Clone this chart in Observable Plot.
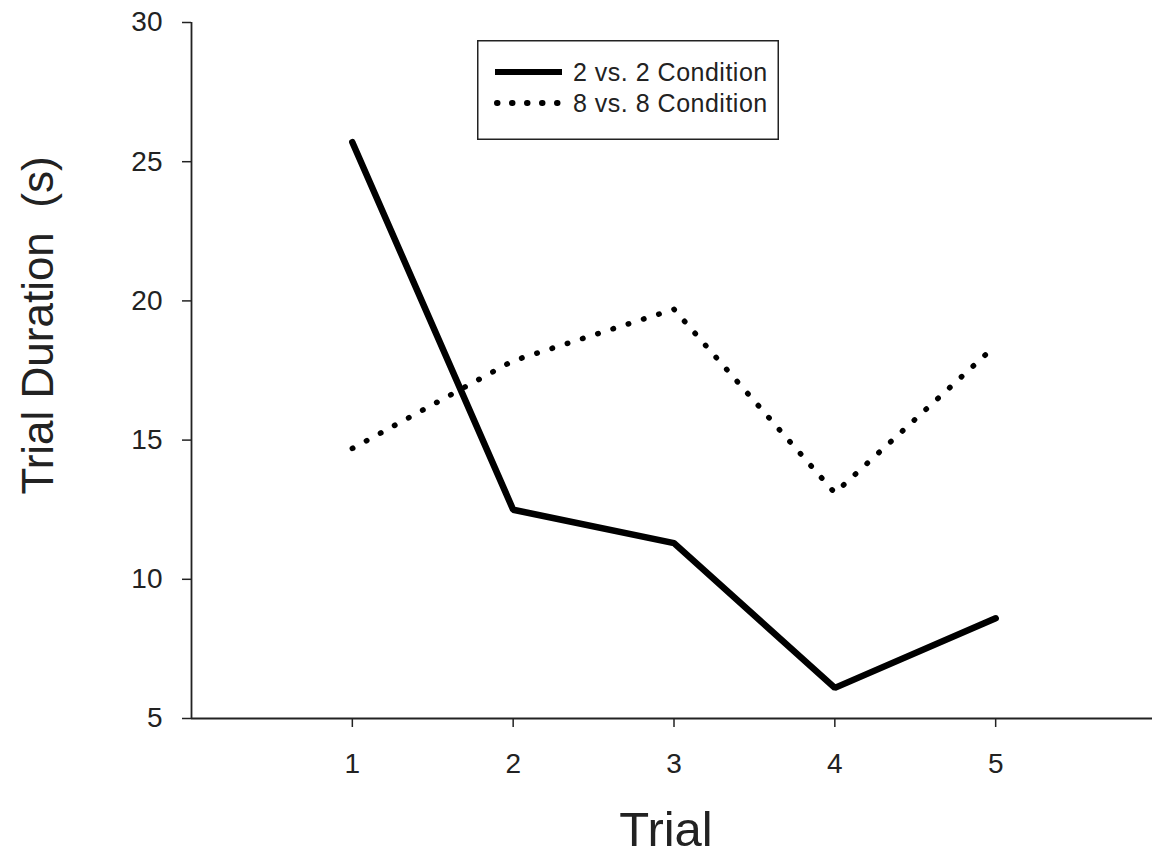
<!DOCTYPE html>
<html>
<head>
<meta charset="utf-8">
<script src="https://cdn.jsdelivr.net/npm/d3@7"></script>
<script src="https://cdn.jsdelivr.net/npm/@observablehq/plot@0.6"></script>
<style>
  html, body { margin: 0; padding: 0; background: #fff; }
  #wrap { position: relative; width: 1152px; height: 854px; font-family: "Liberation Sans", Arial, sans-serif; }
  #legend { position: absolute; left: 477px; top: 40px; }
</style>
</head>
<body>
<div id="wrap"></div>
<script>
// ---- data ----
const trials = [1, 2, 3, 4, 5];
const cond2 = [25.7, 12.5, 11.3, 6.1, 8.6];   // 2 vs. 2 Condition
const cond8 = [14.7, 17.85, 19.7, 13.1, 18.4]; // 8 vs. 8 Condition
const seriesNames = ["2 vs. 2 Condition", "8 vs. 8 Condition"];
const xTicks = [1, 2, 3, 4, 5];
const yTicks = [5, 10, 15, 20, 25, 30];
const xDomain = [0, 6];
const yDomain = [5, 30];
const xTitle = "Trial";
const yTitle = "Trial Duration\u00a0\u00a0(s)";

const rows2 = trials.map((t, i) => ({trial: t, value: cond2[i]}));
const rows8 = trials.map((t, i) => ({trial: t, value: cond8[i]}));

const font = "Liberation Sans, Arial, sans-serif";
const ink = "#222";

const chart = Plot.plot({
  width: 1152,
  height: 854,
  marginTop: 22,
  marginBottom: 136,
  marginLeft: 191,
  marginRight: 0,
  style: {fontFamily: font, color: ink, background: "#fff", overflow: "visible"},
  x: {domain: xDomain, range: [191, 1156]},
  y: {domain: yDomain},
  marks: [
    Plot.axisY(yTicks, {tickSize: 9, tickPadding: 20, fontSize: 28, stroke: ink, strokeWidth: 1.5, label: null, fill: ink, tickFormat: d => String(d)}),
    Plot.axisX(xTicks, {tickSize: 9, tickPadding: 26, fontSize: 28, stroke: ink, strokeWidth: 1.5, label: null, fill: ink, tickFormat: d => String(d)}),
    Plot.ruleX([xDomain[0]], {y1: yDomain[0], y2: yDomain[1], stroke: ink, strokeWidth: 1.8}),
    Plot.ruleY([yDomain[0]], {x1: xDomain[0], x2: xDomain[1], stroke: ink, strokeWidth: 1.8}),
    Plot.line(rows8, {x: "trial", y: "value", stroke: "#000", strokeWidth: 5.5,
      strokeDasharray: "0.5,15.5", strokeLinecap: "round"}),
    Plot.line(rows2, {x: "trial", y: "value", stroke: "#000", strokeWidth: 6.5, strokeLinejoin: "miter"}),
    Plot.text([xTitle], {frameAnchor: "bottom", lineAnchor: "middle", textAnchor: "middle", dx: -6, dy: 112, fontSize: 49, fill: ink}),
    Plot.text([yTitle], {frameAnchor: "left", lineAnchor: "middle", textAnchor: "middle", dx: -153, dy: -45, rotate: -90, fontSize: 44, fill: ink})
  ]
});

const wrap = document.getElementById("wrap");
wrap.appendChild(chart);

// legend box inside the plot area
const ns = "http://www.w3.org/2000/svg";
const lg = document.createElementNS(ns, "svg");
lg.setAttribute("id", "legend");
lg.setAttribute("width", 302);
lg.setAttribute("height", 100);
lg.innerHTML = `
  <rect x="0.75" y="0.75" width="300.5" height="98.5" fill="#fff" stroke="${ink}" stroke-width="1.5"/>
  <line x1="18" x2="85" y1="32" y2="32" stroke="#000" stroke-width="6"/>
  <line x1="20" x2="82" y1="63" y2="63" stroke="#000" stroke-width="6" stroke-dasharray="0.5,14.5" stroke-linecap="round"/>
  <text x="96" y="41" font-size="25" fill="${ink}" font-family="${font}" letter-spacing="0.5">${seriesNames[0]}</text>
  <text x="96" y="72" font-size="25" fill="${ink}" font-family="${font}" letter-spacing="0.5">${seriesNames[1]}</text>
`;
wrap.appendChild(lg);
</script>
</body>
</html>
